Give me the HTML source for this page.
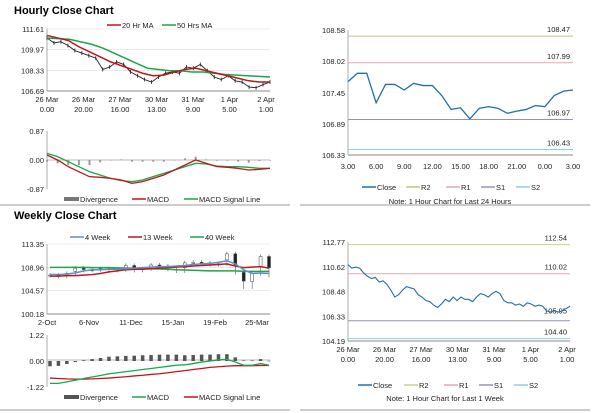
<!DOCTYPE html>
<html><head><meta charset="utf-8">
<style>
body{margin:0;background:#fff;width:600px;height:413px;overflow:hidden;font-family:"Liberation Sans",Arial,sans-serif}
svg{position:absolute;left:0;top:0}
text{font-family:"Liberation Sans",Arial,sans-serif;font-size:7.5px;fill:#222}
.t{font-size:11px;font-weight:bold;fill:#000}
</style></head><body>
<svg id="s" width="600" height="413">
<text class="t" x="14" y="14">Hourly Close Chart</text>
<text class="t" x="14" y="219">Weekly Close Chart</text>
<line x1="0" y1="205" x2="290" y2="205" stroke="#999"/>
<line x1="300" y1="205" x2="590" y2="205" stroke="#999"/>
<line x1="0" y1="410" x2="290" y2="410" stroke="#999"/>
<line x1="300" y1="410" x2="590" y2="410" stroke="#999"/>
</svg>
<script>
// ---------- data ----------
const hTimeLabels=[["26 Mar","0.00"],["26 Mar","20.00"],["27 Mar","16.00"],["30 Mar","13.00"],["31 Mar","9.00"],["1 Apr","5.00"],["2 Apr","1.00"]];
const hTicks=[111.61,109.97,108.33,106.69];
const hClose=[110.9,110.5,110.6,110.3,109.9,109.7,109.5,109.3,108.4,108.6,109.0,108.8,108.2,107.9,107.6,107.4,107.8,108.1,108.2,108.1,108.6,108.5,108.8,108.3,107.8,107.6,107.9,107.5,107.4,107.0,106.95,107.2,107.4];
const hMA20=[111.1,110.9,110.7,110.2,109.8,109.4,109.0,108.7,108.4,108.1,107.9,107.95,108.2,108.4,108.5,108.3,108.1,107.9,107.7,107.5,107.4,107.4];
const hMA50=[110.9,110.85,110.8,110.6,110.4,110.1,109.7,109.3,108.9,108.5,108.4,108.3,108.3,108.2,108.2,108.1,108.0,107.95,107.9,107.85,107.8];
const hmTicks=[0.87,0.00,-0.87];
const hMACD=[0.15,0.0,-0.2,-0.35,-0.5,-0.52,-0.55,-0.6,-0.7,-0.65,-0.55,-0.45,-0.3,-0.15,0.0,-0.1,-0.2,-0.22,-0.25,-0.3,-0.28,-0.25];
const hSignal=[0.2,0.1,-0.05,-0.2,-0.35,-0.45,-0.55,-0.62,-0.65,-0.6,-0.5,-0.4,-0.3,-0.2,-0.1,-0.12,-0.18,-0.2,-0.2,-0.22,-0.25,-0.25];
const dTimeLabels=["3.00","6.00","9.00","12.00","15.00","18.00","21.00","0.00","3.00"];
const dTicks=[108.58,108.02,107.45,106.89,106.33];
const dClose=[107.65,107.8,107.8,107.27,107.6,107.6,107.5,107.62,107.58,107.58,107.4,107.15,107.18,106.98,107.17,107.2,107.17,107.08,107.12,107.15,107.22,107.2,107.4,107.48,107.5];
const dLevels=[108.47,107.99,106.97,106.43];
const wLabels=["2-Oct","6-Nov","11-Dec","15-Jan","19-Feb","25-Mar"];
const wTicks=[113.35,108.96,104.57,100.18];
const wClose=[107.5,107.3,107.8,108.8,108.4,108.5,108.7,108.4,108.5,109.3,108.4,108.7,109.4,109.2,108.6,108.3,109.8,109.9,109.8,109.5,109.6,111.5,108.0,105.3,107.8,111.0,107.5];
const w4=[107.6,107.6,107.7,107.9,108.3,108.5,108.5,108.6,108.6,108.7,108.8,108.9,109.0,109.1,109.1,109.2,109.3,109.5,109.6,109.7,109.9,110.2,109.6,108.5,107.8,107.9,107.8];
const w13=[107.3,107.3,107.4,107.4,107.5,107.6,107.8,108.1,108.3,108.5,108.6,108.6,108.7,108.8,108.9,109.0,109.1,109.2,109.3,109.4,109.5,109.6,109.2,108.9,109.0,109.1,108.8];
const w40=[108.96,108.96,108.96,108.95,108.95,108.9,108.9,108.9,108.85,108.8,108.8,108.75,108.7,108.65,108.6,108.5,108.45,108.4,108.35,108.3,108.3,108.3,108.3,108.2,108.2,108.2,108.2];
const wmTicks=[1.22,0.00,-1.22];
const wMACD=[-1.05,-1.05,-0.98,-0.9,-0.82,-0.75,-0.68,-0.6,-0.55,-0.5,-0.45,-0.4,-0.35,-0.3,-0.25,-0.2,-0.18,-0.12,-0.05,0.0,0.05,0.08,-0.05,-0.2,-0.2,-0.12,-0.2];
const wSignal=[-0.8,-0.82,-0.84,-0.85,-0.85,-0.84,-0.82,-0.8,-0.77,-0.74,-0.7,-0.67,-0.63,-0.6,-0.55,-0.5,-0.45,-0.4,-0.35,-0.3,-0.27,-0.24,-0.22,-0.22,-0.22,-0.21,-0.21];
const pClose=[110.8,110.5,110.6,110.5,110.1,109.8,109.6,109.7,109.3,109.4,109.1,108.6,108.0,108.2,108.6,108.9,108.8,108.7,108.2,108.0,107.7,107.6,107.3,107.1,107.4,107.8,107.6,108.0,107.7,108.0,107.8,107.8,107.6,108.0,108.3,108.2,108.0,108.3,108.5,108.3,107.7,107.5,107.5,107.3,107.4,107.2,107.5,107.4,107.2,107.3,107.2,106.8,106.7,106.8,106.7,106.8,107.0,107.2];
const pTicks=[112.77,110.62,108.48,106.33,104.19];
const pLevels=[112.54,110.02,105.95,104.40];

// ---------- helpers ----------
const S=document.getElementById('s'),NS='http://www.w3.org/2000/svg';
function el(tag,at,txt){const e=document.createElementNS(NS,tag);for(const k in at)e.setAttribute(k,at[k]);if(txt!=null)e.textContent=txt;S.appendChild(e);return e;}
function lin(d0,d1,r0,r1){return v=>r0+(v-d0)/(d1-d0)*(r1-r0);}
function yAxis(ticks,y,x0,x1,name,grid){
  ticks.forEach(t=>{const e=el('text',{x:x0-3,y:y(t)+3,'text-anchor':'end'},t.toFixed(2));
    
    
    if(grid){const g=el('line',{x1:x0,x2:x1,y1:y(t),y2:y(t),stroke:'#ddd','stroke-width':0.6});
      
      }
  });
  const a=el('line',{x1:x0,x2:x0,y1:y(ticks[0]),y2:y(ticks[ticks.length-1]),stroke:'#888','stroke-width':0.7});
  
  
}
function line(vals,x,y,col,w,name){
  const p=el('polyline',{points:vals.map((v,i)=>x(i)+','+y(v)).join(' '),fill:'none',stroke:col,'stroke-width':w});
  
  
}
function hline(x0,x1,yv,col,name){const l=el('line',{x1:x0,x2:x1,y1:yv,y2:yv,stroke:col,'stroke-width':1});
  
  }
function legend(items,yv){items.forEach(it=>{
  const l=el('line',{x1:it[0],x2:it[0]+(it[3]||14),y1:yv-3,y2:yv-3,stroke:it[2],'stroke-width':it[3]?4:1.5});
  
  
  const t=el('text',{x:it[0]+(it[3]||14)+1,y:yv},it[1]);
  
  });}
function xLabels2(labels,x0,x1,y1,name){labels.forEach((l,i)=>{const xx=x0+i*(x1-x0)/(labels.length-1);
  const a=el('text',{x:xx,y:y1,'text-anchor':'middle'},l[0]);
  const b=el('text',{x:xx,y:y1+10,'text-anchor':'middle'},l[1]);});}
function bars(vals,x,y,col,w,name){vals.forEach((v,i)=>{const y0=y(0),y1=y(v);
  const r=el('rect',{x:x(i)-w/2,y:Math.min(y0,y1),width:w,height:Math.max(0.5,Math.abs(y1-y0)),fill:col});
  
  });}

// ---------- Hourly price (top-left) ----------
{const X0=47,X1=270,y=lin(111.61,106.69,29,91);
 yAxis(hTicks,y,X0,X1,'hourly-y',true);
 hline(X0,X1,91,'#888','hourly-x-axis');
 const xc=i=>X0+i*(X1-X0)/(hClose.length-1);
 line(hClose,xc,y,'#222',0.9,'hourly-close-line');
 hClose.forEach((v,i)=>{const k=el('line',{x1:xc(i),x2:xc(i),y1:y(v)-2,y2:y(v)+2,stroke:'#222','stroke-width':0.8});
   
   });
 line(hMA50,i=>X0+i*(X1-X0)/(hMA50.length-1),y,'#1aa64a',1.5,'ma-50-line');
 line(hMA20,i=>X0+i*(X1-X0)/(hMA20.length-1),y,'#c0161b',1.5,'ma-20-line');
 xLabels2(hTimeLabels,X0,266,102,'hourly-x');
 legend([[107,'20 Hr MA','#c0161b'],[162,'50 Hrs MA','#1aa64a']],28);
 const m=lin(0.87,-0.87,131,189),xm=i=>X0+i*(X1-X0)/(hMACD.length-1);
 yAxis(hmTicks,m,X0,X1,'hourly-macd-y',false);
 hline(X0,X1,160,'#bbb','hourly-macd-zero');
 bars(hMACD.map((v,i)=>v-hSignal[i]),xm,m,'#999',2,'hourly-divergence-bar');
 line(hSignal,xm,m,'#1aa64a',1.3,'hourly-signal-line');
 line(hMACD,xm,m,'#c0161b',1.3,'hourly-macd-line');
 legend([[64,'Divergence','#777',15],[132,'MACD','#c0161b'],[184,'MACD Signal Line','#1aa64a']],202);
}
// ---------- Daily 24h (top-right) ----------
{const X0=348,X1=573,y=lin(108.58,106.33,30,155);
 yAxis(dTicks,y,X0,X1,'daily-y',false);
 hline(X0,X1,155,'#888','daily-x-axis');
 const cols=['#c8c08a','#e6a8b0','#9a8fb0','#8fd0dc'],nm=['r2','r1','s1','s2'];
 dLevels.forEach((v,i)=>{hline(X0,X1,y(v),cols[i],'daily-'+nm[i]+'-line');
   const t=el('text',{x:570,y:y(v)-4,'text-anchor':'end','font-size':'8'},v.toFixed(2));
   
   });
 line(dClose,i=>X0+i*(X1-X0)/(dClose.length-1),y,'#1f6fb0',1.3,'daily-close-line');
 dTimeLabels.forEach((l,i)=>{const t=el('text',{x:X0+i*(X1-X0)/8,y:169,'text-anchor':'middle'},l);
   
   });
 legend([[362,'Close','#1f6fb0'],[406,'R2',cols[0]],[446,'R1',cols[1]],[481,'S1',cols[2]],[516,'S2',cols[3]]],190);
 const n=el('text',{x:450,y:204,'text-anchor':'middle','font-size':'6.5'},'Note: 1 Hour Chart for Last 24 Hours');
 
}
// ---------- Weekly (bottom-left) ----------
{const X0=47,X1=270,y=lin(113.35,100.18,244,314),step=(X1-X0-4)/(wClose.length-1),xw=i=>X0+3+i*step;
 yAxis(wTicks,y,X0,X1,'weekly-y',true);
 hline(X0,X1,314,'#888','weekly-x-axis');
 wClose.forEach((v,i)=>{const o=i?wClose[i-1]:v;
   const w=el('line',{x1:xw(i),x2:xw(i),y1:y(Math.max(o,v)+0.4),y2:y(Math.min(o,v)-0.4),stroke:'#555','stroke-width':0.6});
   
   const r=el('rect',{x:xw(i)-1.5,y:y(Math.max(o,v)),width:3,height:Math.max(1,Math.abs(y(o)-y(v))*0.6),fill:v<o?'#222':'#fff',stroke:'#444','stroke-width':0.5});
   });
 line(w40,xw,y,'#1aa64a',1.5,'week40-line');
 line(w13,xw,y,'#c0161b',1.5,'week13-line');
 line(w4,xw,y,'#5b8fd0',1.5,'week4-line');
 wLabels.forEach((l,i)=>{const t=el('text',{x:X0+i*42,y:325,'text-anchor':'middle'},l);
   });
 legend([[70,'4 Week','#5b8fd0'],[128,'13 Week','#c0161b'],[190,'40 Week','#1aa64a']],240);
 const m=lin(1.22,-1.22,335,387);
 yAxis(wmTicks,m,X0,X1,'weekly-macd-y',false);
 hline(X0,X1,360,'#bbb','weekly-macd-zero');
 bars(wMACD.map((v,i)=>v-wSignal[i]),xw,m,'#555',3.5,'weekly-divergence-bar');
 line(wSignal,xw,m,'#c0161b',1.3,'weekly-signal-line');
 line(wMACD,xw,m,'#1aa64a',1.3,'weekly-macd-line');
 legend([[64,'Divergence','#555',15],[132,'MACD','#1aa64a'],[184,'MACD Signal Line','#c0161b']],400);
}
// ---------- 1 week hourly (bottom-right) ----------
{const X0=348,X1=570,y=lin(112.77,104.19,242,341);
 yAxis(pTicks,y,X0,X1,'week-hourly-y',false);
 hline(X0,X1,341,'#888','week-hourly-x-axis');
 const cols=['#c8d08a','#e6a8b0','#9a8fb0','#8fd0dc'],nm=['r2','r1','s1','s2'];
 pLevels.forEach((v,i)=>{hline(X0,X1,y(v),cols[i],'week-hourly-'+nm[i]+'-line');
   const t=el('text',{x:567,y:(i==2?y(v)-7:y(v)-4),'text-anchor':'end','font-size':'8'},v.toFixed(2));
   });
 line(pClose,i=>X0+i*(X1-X0)/(pClose.length-1),y,'#1f6fb0',1.1,'week-hourly-close-line');
 xLabels2(hTimeLabels,X0,X1-3,352,'week-hourly-x');
 legend([[358,'Close','#1f6fb0'],[404,'R2',cols[0]],[444,'R1',cols[1]],[479,'S1',cols[2]],[514,'S2',cols[3]]],388);
 const n=el('text',{x:445,y:401,'text-anchor':'middle','font-size':'6.5'},'Note: 1 Hour Chart for Last 1 Week');
 
}
</script>
</body></html>
